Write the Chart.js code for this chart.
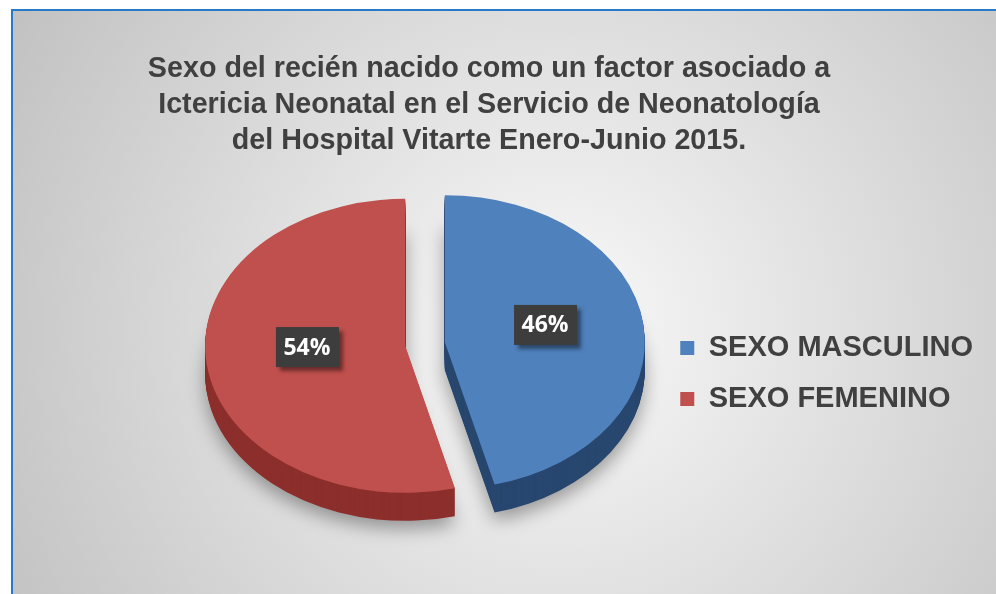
<!DOCTYPE html>
<html>
<head>
<meta charset="utf-8">
<script src="https://cdn.jsdelivr.net/npm/chart.js@4.4.1/dist/chart.umd.min.js"></script>
<style>
html, body { margin: 0; padding: 0; background: #fff; }
#wrap { width: 996px; height: 594px; }
</style>
</head>
<body>
<div id="wrap"><canvas id="myChart" width="996" height="594"></canvas></div>
<script>
const categories = ['SEXO MASCULINO', 'SEXO FEMENINO'];
const percentArr = [46, 54];
const colorArr = ['#4f81bd', '#c0504d'];
const sideColorArr = ['#28476f', '#8c2f2c'];
const titleLines = [
    'Sexo del recién nacido como un factor asociado a',
    'Ictericia Neonatal en el Servicio de Neonatología',
    'del Hospital Vitarte Enero-Junio 2015.'
];

// where the tilted pie goes
const PIE_X = 425, PIE_Y = 344, RAD_X = 200, RAD_Y = 147;
const DEPTH = 28, EXPLODE = 20;

function arcShift(arc, sx, sy) {
    const mid = (arc.startAngle + arc.endAngle) / 2;
    return { x: Math.cos(mid) * EXPLODE, y: Math.sin(mid) * EXPLODE * sy / sx };
}

const pie3d = {
    id: 'pie3d',
    beforeDraw(chart) {
        const ctx = chart.ctx;
        ctx.save();
        ctx.fillStyle = '#fff';
        ctx.fillRect(0, 0, chart.width, chart.height);
        const g = ctx.createRadialGradient(560, 330, 0, 560, 330, 650);
        g.addColorStop(0, '#f9f9f9');
        g.addColorStop(1, '#c0c0c0');
        ctx.fillStyle = g;
        ctx.fillRect(11, 9, chart.width - 11, chart.height - 9);
        ctx.strokeStyle = '#2779c9';
        ctx.lineWidth = 2;
        ctx.beginPath();
        ctx.moveTo(12, chart.height);
        ctx.lineTo(12, 10);
        ctx.lineTo(chart.width, 10);
        ctx.stroke();
        ctx.restore();
    },
    beforeDatasetsDraw(chart) {
        const ctx = chart.ctx;
        const arcs = chart.getDatasetMeta(0).data;
        const r = arcs[0].outerRadius;
        const cx = arcs[0].x, cy = arcs[0].y;
        const sx = RAD_X / r, sy = RAD_Y / r;
        for (let d = DEPTH; d >= 0; d--) {
            arcs.forEach((arc, i) => {
                const s = arcShift(arc, sx, sy);
                ctx.save();
                if (d === DEPTH) {
                    ctx.shadowColor = 'rgba(0,0,0,0.35)';
                    ctx.shadowBlur = 18;
                    ctx.shadowOffsetY = 8;
                }
                ctx.translate(PIE_X + s.x, PIE_Y + s.y + d);
                ctx.scale(sx, sy);
                ctx.translate(-cx, -cy);
                const el = Object.create(arc);
                el.options = Object.assign({}, arc.options, {
                    backgroundColor: d > 0 ? sideColorArr[i] : colorArr[i]
                });
                arc.draw.call(el, ctx);
                ctx.restore();
            });
        }
        return false;
    },
    // data labels (afterDatasetsDraw is skipped once the default draw is cancelled)
    afterDraw(chart) {
        const ctx = chart.ctx;
        const arcs = chart.getDatasetMeta(0).data;
        const r = arcs[0].outerRadius;
        const cx = arcs[0].x, cy = arcs[0].y;
        const sx = RAD_X / r, sy = RAD_Y / r;
        const total = percentArr.reduce((a, b) => a + b, 0);
        ctx.save();
        ctx.font = "bold 23px 'Open Sans', sans-serif";
        ctx.textAlign = 'center';
        ctx.textBaseline = 'middle';
        arcs.forEach((arc, i) => {
            const p = arc.tooltipPosition();
            const s = arcShift(arc, sx, sy);
            const x = PIE_X + s.x + (p.x - cx) * sx + 1;
            const y = PIE_Y + s.y + (p.y - cy) * sy - 8;
            ctx.save();
            ctx.shadowColor = 'rgba(0,0,0,0.45)';
            ctx.shadowBlur = 4;
            ctx.shadowOffsetX = 4;
            ctx.shadowOffsetY = 4;
            ctx.fillStyle = '#3d3d3d';
            ctx.fillRect(x - 31, y - 20, 63, 40);
            ctx.restore();
            ctx.fillStyle = '#fff';
            ctx.fillText(Math.round(percentArr[i] / total * 100) + '%', x, y + 1);
        });
        ctx.restore();
    }
};

const labelFont = { family: "'Liberation Sans', Arial, sans-serif", size: 29, weight: 'bold' };

const myChart = new Chart(document.getElementById('myChart'), {
    type: 'pie',
    data: {
        labels: categories,
        datasets: [{
            data: percentArr,
            backgroundColor: colorArr,
            borderWidth: 0
        }]
    },
    options: {
        responsive: false,
        animation: false,
        events: [],
        layout: {
            padding: { top: 11, bottom: 16, left: -5, right: 13 }
        },
        plugins: {
            title: {
                display: true,
                text: titleLines,
                color: '#404040',
                font: { family: labelFont.family, size: 28.7, weight: 'bold', lineHeight: 1.255 },
                padding: { top: 40, bottom: 10 }
            },
            legend: {
                position: 'right',
                fullSize: false,
                labels: {
                    boxWidth: 14,
                    boxHeight: 14,
                    padding: 22,
                    color: '#404040',
                    font: labelFont
                }
            },
            tooltip: { enabled: false }
        }
    },
    plugins: [pie3d]
});
</script>
</body>
</html>
